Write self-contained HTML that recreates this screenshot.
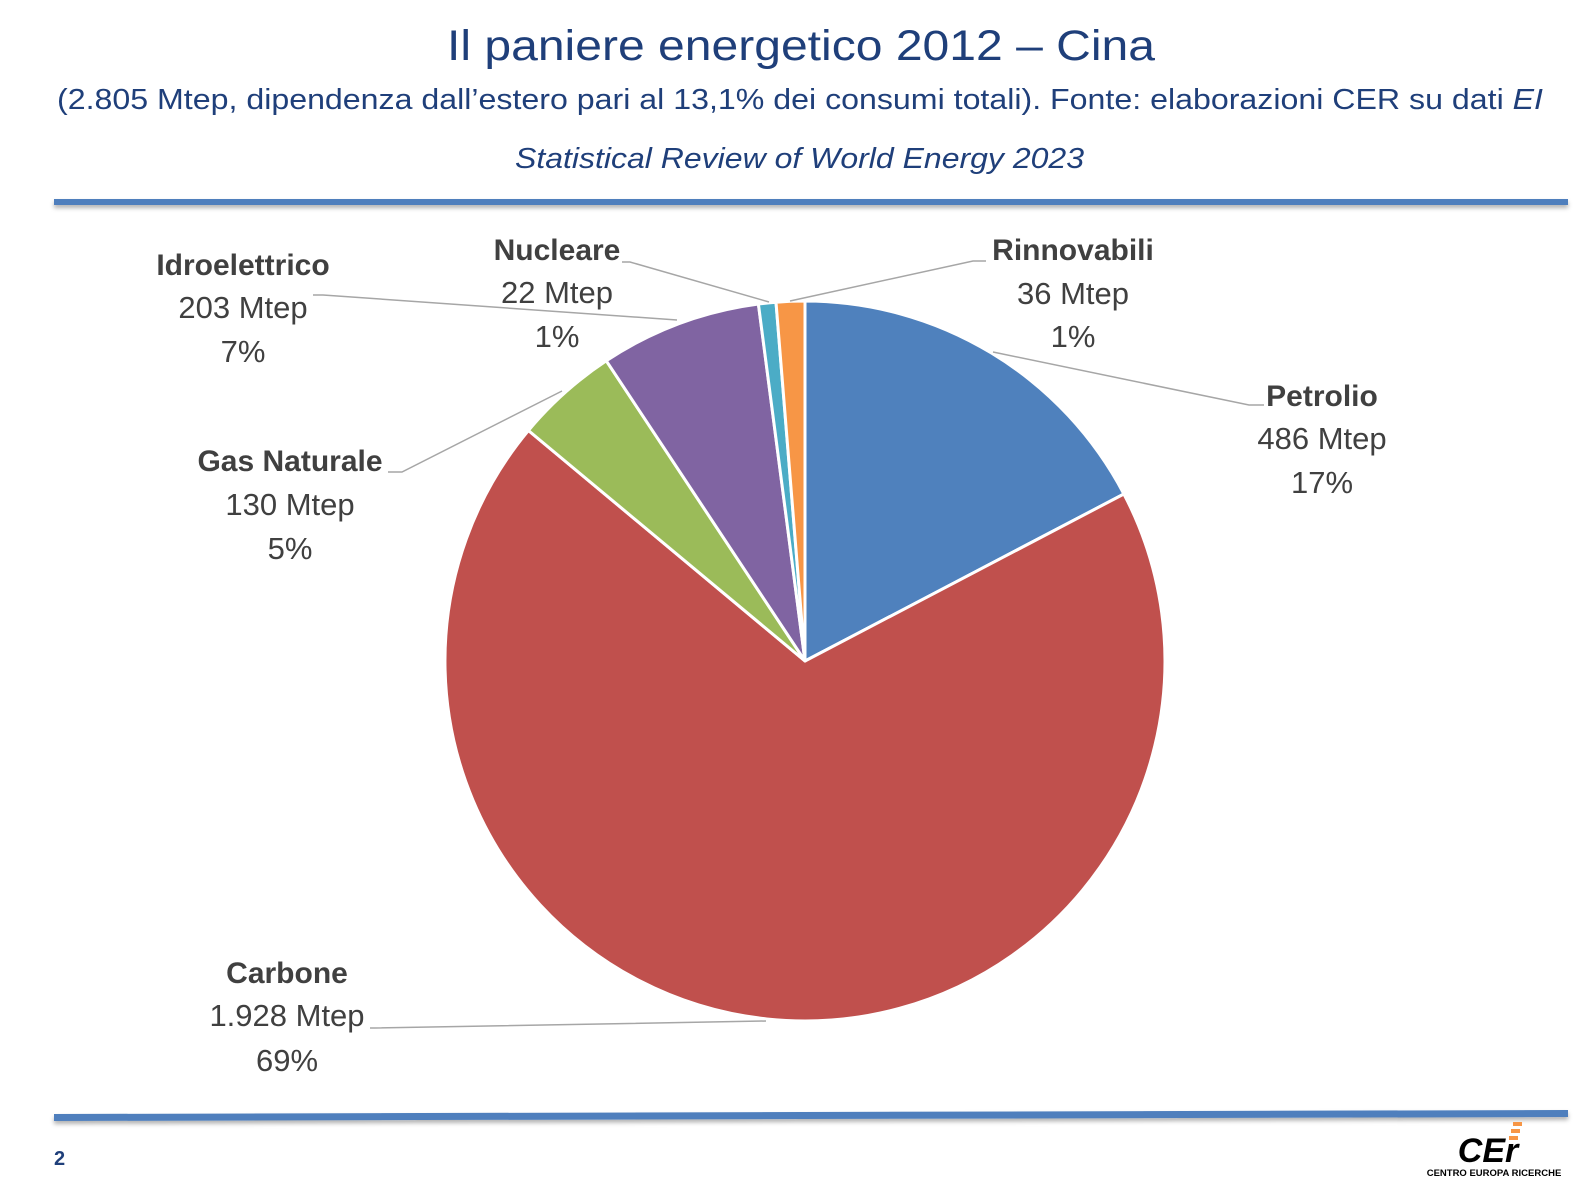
<!DOCTYPE html>
<html><head><meta charset="utf-8"><style>
html,body{margin:0;padding:0;background:#fff;}
svg{display:block;}
text{font-family:"Liberation Sans",sans-serif;}
</style></head><body>
<svg width="1596" height="1197" viewBox="0 0 1596 1197" xmlns="http://www.w3.org/2000/svg">
<defs>
<filter id="sh" x="-5%" y="-100%" width="110%" height="400%"><feDropShadow dx="0" dy="3" stdDeviation="2" flood-color="#000" flood-opacity="0.3"/></filter>
</defs>
<text x="447" y="60" font-size="43" fill="#1f3f7a" textLength="708" lengthAdjust="spacingAndGlyphs">Il paniere energetico 2012 – Cina</text>
<text x="57" y="109" font-size="29" fill="#1f3f7a" textLength="1486" lengthAdjust="spacingAndGlyphs">(2.805 Mtep, dipendenza dall’estero pari al 13,1% dei consumi totali). Fonte: elaborazioni CER su dati <tspan font-style="italic">EI</tspan></text>
<text x="515" y="168" font-size="29" font-style="italic" fill="#1f3f7a" textLength="569" lengthAdjust="spacingAndGlyphs">Statistical Review of World Energy 2023</text>
<rect x="54" y="199" width="1514" height="6" fill="#4f7fbd" filter="url(#sh)"/>
<polygon points="54,1114 1568,1110 1568,1117 54,1121" fill="#4f7fbd" filter="url(#sh)"/>
<g stroke="#fff" stroke-width="3" stroke-linejoin="round">
<path d="M805,661 L805,301 A360,360 0 0 1 1123.9,494 Z" fill="#4f81bd"/>
<path d="M805,661 L1123.9,494 A360,360 0 1 1 528.4,430.5 Z" fill="#c0504d"/>
<path d="M805,661 L528.4,430.5 A360,360 0 0 1 606.3,360.8 Z" fill="#9bbb59"/>
<path d="M805,661 L606.3,360.8 A360,360 0 0 1 758.4,304 Z" fill="#8064a2"/>
<path d="M805,661 L758.4,304 A360,360 0 0 1 776,302.2 Z" fill="#4bacc6"/>
<path d="M805,661 L776,302.2 A360,360 0 0 1 805,301 Z" fill="#f79646"/>
</g>
<g stroke="#a6a6a6" stroke-width="1.5" fill="none">
<polyline points="790,301 973,261 986,261"/>
<polyline points="769,302 630,262 622,262"/>
<polyline points="677,320 323,295 313,295"/>
<polyline points="562,391 402,472 388,472"/>
<polyline points="766,1021 375,1028 370,1028"/>
<polyline points="993,352 1249,405 1264,405"/>
</g>
<g font-size="31" fill="#404040" text-anchor="middle">
<g font-size="30" font-weight="bold">
<text x="1073" y="260">Rinnovabili</text>
<text x="1322" y="406">Petrolio</text>
<text x="557" y="260">Nucleare</text>
<text x="243" y="275">Idroelettrico</text>
<text x="290" y="471">Gas Naturale</text>
<text x="287" y="983">Carbone</text>
</g>
<text x="1073" y="304">36 Mtep</text><text x="1073" y="347">1%</text>
<text x="1322" y="449">486 Mtep</text><text x="1322" y="493">17%</text>
<text x="557" y="303">22 Mtep</text><text x="557" y="347">1%</text>
<text x="243" y="318">203 Mtep</text><text x="243" y="362">7%</text>
<text x="290" y="515">130 Mtep</text><text x="290" y="559">5%</text>
<text x="287" y="1026">1.928 Mtep</text><text x="287" y="1071">69%</text>
</g>
<text x="54" y="1165" font-size="20" font-weight="bold" fill="#1f3f7a">2</text>
<rect x="1513" y="1122" width="9" height="4" fill="#f79646"/>
<rect x="1511" y="1129" width="9" height="4" fill="#f79646"/>
<rect x="1509" y="1136" width="9" height="4" fill="#f79646"/>
<text x="1488" y="1162" text-anchor="middle" font-size="34" font-weight="bold" font-style="italic" fill="#000">CEr</text>
<text x="1494" y="1176" text-anchor="middle" font-size="9.5" font-weight="bold" fill="#000">CENTRO EUROPA RICERCHE</text>
</svg>
</body></html>
